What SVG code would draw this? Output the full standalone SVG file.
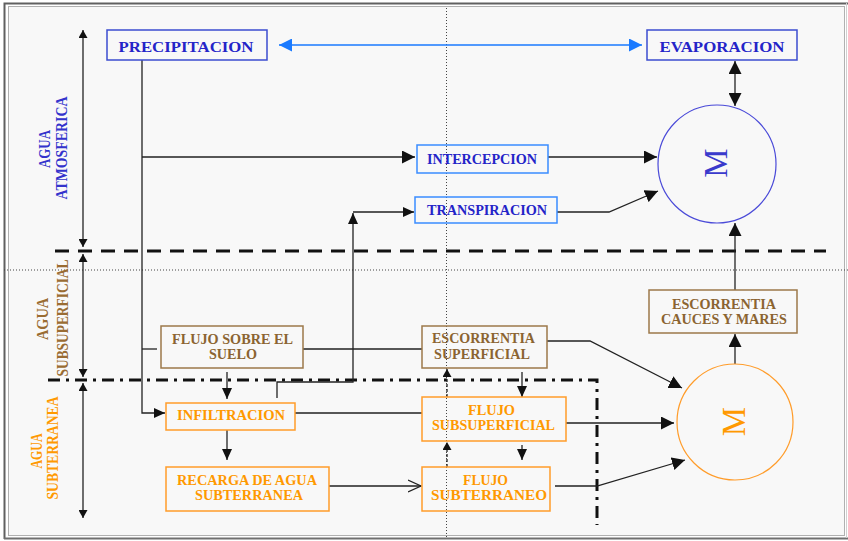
<svg xmlns="http://www.w3.org/2000/svg" width="848" height="541" viewBox="0 0 848 541">
<style>
text{font-family:"Liberation Serif","Times New Roman",serif;font-weight:bold;text-anchor:middle}
.bt{fill:#2424c8;font-size:15px}
.br{fill:#8b6431;font-size:14px}
.or{fill:#ff9900;font-size:14px}
.side{font-size:17px}
.bx1{fill:none;stroke:#3b4ccf;stroke-width:1.5}
.bx2{fill:none;stroke:#3a8cff;stroke-width:1.5}
.bx3{fill:none;stroke:#9c784a;stroke-width:1.5}
.bx4{fill:none;stroke:#ff9c2a;stroke-width:1.5}
.ln{fill:none;stroke:#222;stroke-width:1.3}
.big{marker-end:url(#aL)}
.med{marker-end:url(#aM)}
.dot{fill:none;stroke:#444;stroke-width:1;stroke-dasharray:1 2}
.mtxt{font-weight:normal;font-size:33px}
</style>
<defs>
<marker id="aL" markerUnits="userSpaceOnUse" markerWidth="14" markerHeight="13" refX="13" refY="6.5" orient="auto-start-reverse"><path d="M0,0 L13,6.5 L0,13 z" fill="#111"/></marker>
<marker id="aM" markerUnits="userSpaceOnUse" markerWidth="12" markerHeight="10" refX="11" refY="5" orient="auto-start-reverse"><path d="M0,0 L11,5 L0,10 z" fill="#111"/></marker>
<marker id="aS" markerUnits="userSpaceOnUse" markerWidth="9" markerHeight="9" refX="8" refY="4.5" orient="auto-start-reverse"><path d="M0,0 L8,4.5 L0,9 z" fill="#111"/></marker>
<marker id="aB" markerUnits="userSpaceOnUse" markerWidth="14" markerHeight="13" refX="13" refY="6.5" orient="auto-start-reverse"><path d="M0,0 L13,6.5 L0,13 z" fill="#1a7aff"/></marker>
<marker id="aO" markerUnits="userSpaceOnUse" markerWidth="14" markerHeight="14" refX="13" refY="7" orient="auto"><path d="M0,1 L13,7 L0,13" fill="none" stroke="#222" stroke-width="1.3"/></marker>
</defs>
<g id="frame">
<rect x="0" y="0" width="848" height="541" fill="#ffffff"/>
<rect x="8.5" y="6.5" width="836" height="529" fill="#f8f8f8" stroke="#b0b0b0" stroke-width="1"/>
<path d="M4.5 539 V3.5 H848" fill="none" stroke="#606060" stroke-width="2"/>
<path d="M4 538.5 H848" fill="none" stroke="#707070" stroke-width="2"/>
<path d="M846.5 3 V538" fill="none" stroke="#d0d0d0" stroke-width="1"/>
</g>
<g id="zones">
<path class="dot" d="M446.5 8 V537"/>
<path class="dot" d="M4 270 H848"/>
<path d="M55 251 H826" fill="none" stroke="#111" stroke-width="3" stroke-dasharray="14 9"/>
<path d="M48 380 H597 V525" fill="none" stroke="#111" stroke-width="3" stroke-dasharray="12 6 3 6"/>
</g>
<g id="labels">
<text class="side" fill="#3333cc" transform="translate(50,149) rotate(-90)" textLength="38" lengthAdjust="spacingAndGlyphs">AGUA</text>
<text class="side" fill="#3333cc" transform="translate(66.5,148) rotate(-90)" textLength="103" lengthAdjust="spacingAndGlyphs">ATMOSFERICA</text>
<text class="side" fill="#9a6c33" transform="translate(48,319) rotate(-90)" textLength="42" lengthAdjust="spacingAndGlyphs">AGUA</text>
<text class="side" fill="#9a6c33" transform="translate(68,318) rotate(-90)" textLength="117" lengthAdjust="spacingAndGlyphs">SUBSUPERFICIAL</text>
<text class="side" fill="#ff9900" transform="translate(42,451) rotate(-90)" textLength="35" lengthAdjust="spacingAndGlyphs">AGUA</text>
<text class="side" fill="#ff9900" transform="translate(58,448) rotate(-90)" textLength="103" lengthAdjust="spacingAndGlyphs">SUBTERRANEA</text>
</g>
<g id="connectors">
<path d="M279 45 H642" fill="none" stroke="#1a7aff" stroke-width="1.3" marker-start="url(#aB)" marker-end="url(#aB)"/>
<path class="ln" d="M735 61 V106" marker-start="url(#aL)" marker-end="url(#aL)"/>
<path class="ln med" d="M142 60 V413 H165"/>
<path class="ln big" d="M142 157 H415"/>
<path class="ln" d="M142 349 H157"/>
<path class="ln big" d="M548 157 H657"/>
<path class="ln big" d="M557 212 H609 L658 191"/>
<path class="ln med" d="M277 398 V382 H353 V213"/>
<path class="ln med" d="M353 212 H414"/>
<path class="ln" d="M303 349 H422"/>
<path class="ln med" d="M227 372 V399"/>
<path class="ln med" d="M227 430 V460"/>
<path class="ln" d="M295 413 H422"/>
<path class="ln" d="M329 486 H421" marker-end="url(#aO)"/>
<path class="ln big" d="M547 341 H590 L682 388"/>
<path class="ln big" d="M566 423 H674"/>
<path class="ln big" d="M555 486 H597 L685 460"/>
<path class="ln big" d="M735 364 V334"/>
<path class="ln big" d="M735 290 V223"/>
<path class="ln med" d="M522 372 V397"/>
<path class="ln med" d="M522 445 V460"/>
<path class="ln" d="M447 397 V369" stroke-dasharray="3 2" marker-end="url(#aS)"/>
<path class="ln" d="M447 467 V442" stroke-dasharray="3 2" marker-end="url(#aS)"/>
<path class="ln" d="M83 30 V247" marker-start="url(#aS)" marker-end="url(#aS)"/>
<path class="ln" d="M83 254 V377" marker-start="url(#aS)" marker-end="url(#aS)"/>
<path class="ln" d="M83 383 V518" marker-start="url(#aS)" marker-end="url(#aS)"/>
</g>
<g id="precipitacion">
<rect class="bx1" x="107" y="30" width="160" height="30"/>
<text class="bt" x="186" y="51.5" textLength="135" lengthAdjust="spacingAndGlyphs">PRECIPITACION</text>
</g>
<g id="evaporacion">
<rect class="bx1" x="647" y="30" width="150" height="30"/>
<text class="bt" x="722" y="51.5" textLength="125" lengthAdjust="spacingAndGlyphs">EVAPORACION</text>
</g>
<g id="intercepcion">
<rect class="bx2" x="417" y="145" width="131" height="28"/>
<text class="bt" style="font-size:14px" x="482" y="163.5" textLength="110" lengthAdjust="spacingAndGlyphs">INTERCEPCION</text>
</g>
<g id="transpiracion">
<rect class="bx2" x="415" y="197" width="142" height="26"/>
<text class="bt" style="font-size:14px" x="487" y="214.5" textLength="120" lengthAdjust="spacingAndGlyphs">TRANSPIRACION</text>
</g>
<g id="m-atmosferica">
<circle cx="717" cy="164" r="59" fill="none" stroke="#4a4ad8" stroke-width="1.2"/>
<text class="mtxt" fill="#3a3acc" transform="translate(727,163) rotate(-90)">M</text>
</g>
<g id="escorrentia-cauces">
<rect class="bx3" x="649" y="290" width="148" height="43"/>
<text class="br" x="724" y="308.5" textLength="104" lengthAdjust="spacingAndGlyphs">ESCORRENTIA</text>
<text class="br" x="724" y="323.5" textLength="126" lengthAdjust="spacingAndGlyphs">CAUCES Y MARES</text>
</g>
<g id="flujo-sobre-suelo">
<rect class="bx3" x="161" y="326" width="142" height="42"/>
<text class="br" x="232.5" y="343.5" textLength="121" lengthAdjust="spacingAndGlyphs">FLUJO SOBRE EL</text>
<text class="br" x="233" y="358.5" textLength="48" lengthAdjust="spacingAndGlyphs">SUELO</text>
</g>
<g id="escorrentia-superficial">
<rect class="bx3" x="422" y="326" width="125" height="42"/>
<text class="br" x="483.5" y="342.5" textLength="103" lengthAdjust="spacingAndGlyphs">ESCORRENTIA</text>
<text class="br" x="482" y="358.5" textLength="96" lengthAdjust="spacingAndGlyphs">SUPERFICIAL</text>
</g>
<g id="infiltracion">
<rect class="bx4" x="166" y="403" width="129" height="27"/>
<text class="or" x="231" y="419.5" textLength="108" lengthAdjust="spacingAndGlyphs">INFILTRACION</text>
</g>
<g id="recarga">
<rect class="bx4" x="166" y="467" width="163" height="44"/>
<text class="or" x="247" y="485" textLength="140" lengthAdjust="spacingAndGlyphs">RECARGA DE AGUA</text>
<text class="or" x="249" y="500" textLength="108" lengthAdjust="spacingAndGlyphs">SUBTERRANEA</text>
</g>
<g id="flujo-subsuperficial">
<rect class="bx4" x="422" y="397" width="144" height="44"/>
<text class="or" x="491.5" y="415" textLength="47" lengthAdjust="spacingAndGlyphs">FLUJO</text>
<text class="or" x="493.5" y="430" textLength="123" lengthAdjust="spacingAndGlyphs">SUBSUPERFICIAL</text>
</g>
<g id="flujo-subterraneo">
<rect class="bx4" x="422" y="467" width="128" height="44"/>
<text class="or" x="485.5" y="485" textLength="45" lengthAdjust="spacingAndGlyphs">FLUJO</text>
<text class="or" x="489" y="500" textLength="116" lengthAdjust="spacingAndGlyphs">SUBTERRANEO</text>
</g>
<g id="m-subterranea">
<circle cx="735" cy="422" r="58" fill="none" stroke="#ff9c2a" stroke-width="1.2"/>
<text class="mtxt" fill="#ff9900" transform="translate(745,421.5) rotate(-90)">M</text>
</g>
</svg>
